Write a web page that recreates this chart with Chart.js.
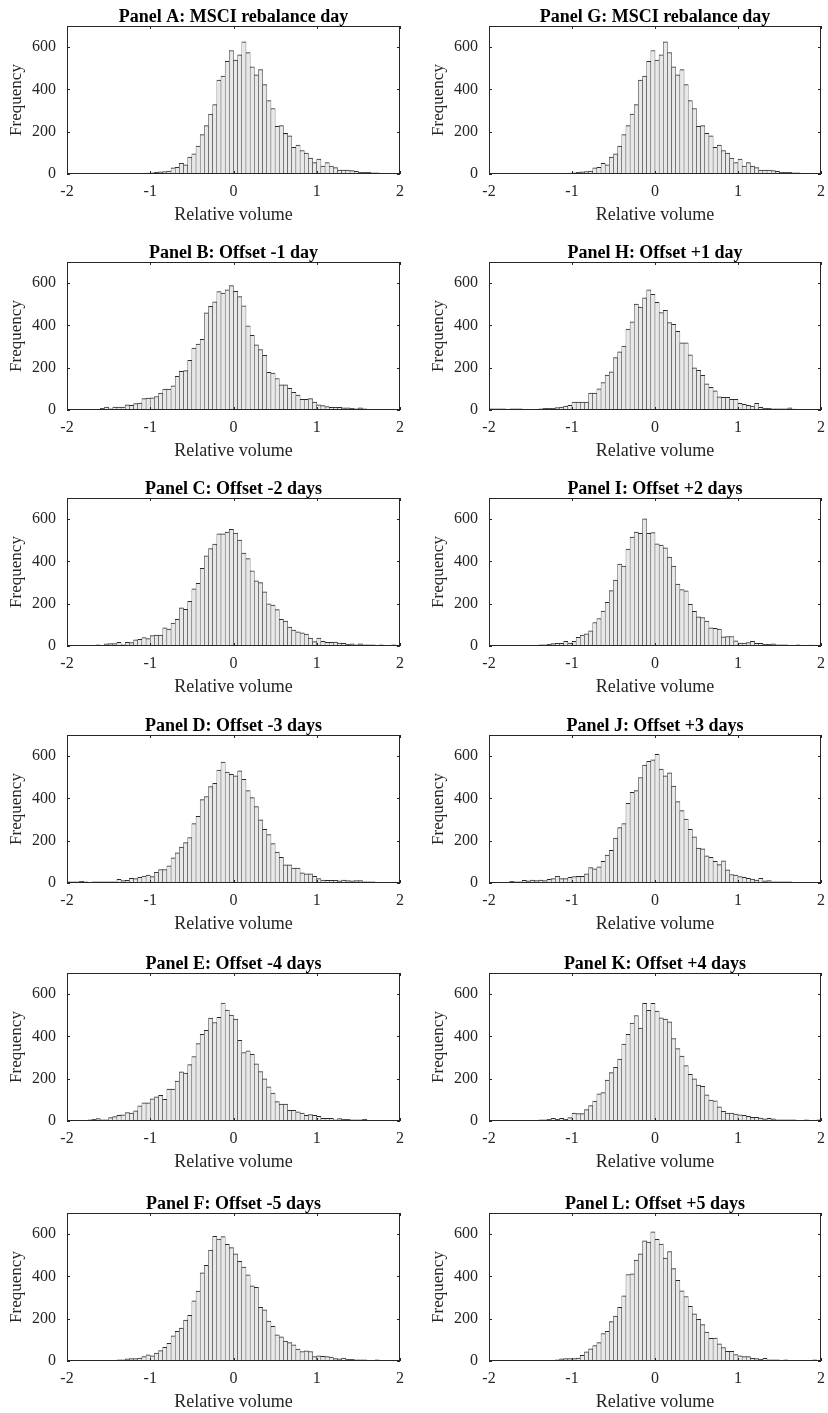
<!DOCTYPE html>
<html>
<head>
<meta charset="utf-8">
<script src="https://cdn.jsdelivr.net/npm/chart.js@4.4.1/dist/chart.umd.min.js"></script>
<style>
  html, body { margin: 0; padding: 0; background: #fff; }
  #wrap { position: relative; width: 828px; height: 1413px; }
  .panel { position: absolute; width: 414px; height: 226px; }
</style>
</head>
<body>
<div id="wrap"></div>
<script>
// ---- data -------------------------------------------------
const BIN_START = -2;
const BIN_WIDTH = 0.05;
const xTicks = [-2, -1, 0, 1, 2];
const yTicks = [0, 200, 400, 600];

const panelA = [0,0,0,0,0,0,0,0,0,0, 0,0,0,0,1,1,2,2,3,4, 5,8,10,12,14,29,32,51,43,80, 95,132,186,229,283,328,444,463,533,584, 539,564,625,574,507,469,494,423,347,310, 226,229,192,181,126,137,111,99,75,54, 70,37,54,38,30,19,19,19,16,13, 8,8,8,6,5,3,3,2,1,1];
const panelB = [1,1,2,1,1,1,1,2,8,14, 6,14,14,14,25,22,30,33,54,56, 57,64,80,99,99,114,159,183,186,235, 293,312,334,460,490,512,560,553,568,588, 561,536,493,398,353,308,286,259,178,175, 149,119,119,103,84,70,51,51,54,37, 25,21,16,13,13,13,10,10,8,6, 10,5,3,2,2,1,2,1,1,1];
const panelC = [2,2,2,2,2,2,2,5,3,10, 11,11,17,6,17,16,29,32,40,35, 49,52,52,86,80,108,126,180,173,211, 270,296,367,426,461,482,531,531,539,552, 534,501,439,413,356,308,300,256,199,194, 172,126,118,89,75,67,62,56,38,21, 37,22,17,17,19,14,13,8,10,6, 10,5,6,5,2,5,2,3,6,2];
const panelD = [5,6,5,8,5,3,6,5,6,6, 6,5,17,11,13,22,21,27,33,38, 30,51,64,64,81,119,143,170,191,215, 281,315,394,409,456,472,534,572,525,514, 507,531,490,437,404,361,299,254,229,186, 146,122,86,86,70,70,48,43,43,32, 21,14,13,13,13,10,14,11,10,11, 11,6,5,5,3,3,3,2,1,1];
const panelE = [2,2,2,2,3,5,8,11,6,6, 16,21,27,29,40,38,48,72,86,86, 105,114,122,103,151,151,189,232,227,267, 305,366,410,429,487,466,490,558,525,501, 482,382,324,332,315,270,234,199,162,132, 92,80,80,51,51,43,38,27,30,27, 22,13,13,13,6,11,8,8,6,6, 5,8,3,3,3,1,1,2,2,2];
const panelF = [0,0,0,0,0,0,1,1,1,1, 2,3,5,6,10,11,11,14,21,29, 25,38,49,65,83,119,140,156,194,216, 285,331,417,453,525,590,577,588,552,536, 507,471,444,407,355,348,254,242,189,164, 124,114,94,87,76,56,45,48,45,21, 25,22,21,19,11,10,14,8,8,6, 5,5,3,3,5,3,2,2,1,1];
const panelG = [0,0,0,0,0,0,0,0,0,0, 0,0,0,0,1,1,2,2,3,4, 5,8,10,12,14,29,32,51,43,80, 95,132,186,229,283,328,444,463,533,584, 539,564,625,574,507,469,494,423,347,310, 226,229,192,181,126,137,111,99,75,54, 70,37,54,38,30,19,19,19,16,13, 8,8,8,6,5,3,3,2,1,1];
const panelH = [5,6,5,6,3,6,5,5,3,2, 2,2,6,8,8,8,11,14,19,22, 38,38,38,38,80,80,100,130,165,181, 248,275,302,383,417,501,487,531,568,547, 509,461,472,413,405,372,318,318,261,200, 188,164,124,107,91,62,60,60,51,51, 32,27,22,19,32,13,8,8,6,5, 5,6,10,4,1,0,1,2,1,2];
const panelI = [1,1,1,1,2,2,2,2,2,2, 2,3,6,6,8,11,13,13,22,14, 22,41,52,57,72,111,130,165,207,262, 312,388,378,458,515,539,533,601,533,536, 483,477,464,420,378,293,267,261,197,164, 138,135,118,86,83,80,43,45,45,25, 14,14,16,22,13,13,8,8,10,5, 5,5,3,3,5,2,2,4,1,1];
const panelJ = [1,1,1,1,2,8,5,6,13,10, 14,11,14,11,17,21,32,21,21,27, 30,32,32,43,73,67,76,103,132,154, 213,262,281,377,429,437,499,558,576,582, 609,539,507,521,458,385,342,302,254,218, 165,162,129,122,103,87,105,62,40,38, 30,27,22,19,14,22,10,11,6,6, 6,5,5,2,2,3,2,1,2,1];
const panelK = [1,1,1,1,2,2,1,1,1,2, 3,2,6,6,8,13,8,13,8,16, 37,35,35,54,73,94,129,134,194,229, 254,293,364,410,463,499,439,556,523,556, 520,488,482,469,390,342,307,262,221,200, 170,164,124,99,95,67,46,37,37,33, 29,27,22,17,17,14,10,13,10,6, 6,6,5,5,2,2,5,2,2,5];
const panelL = [1,1,1,1,1,2,1,1,1,1, 1,2,2,3,3,3,5,10,11,11, 11,14,27,43,57,73,87,130,140,186, 213,254,308,409,412,477,507,568,563,611, 576,553,487,517,437,382,332,305,259,223, 197,172,137,107,108,81,64,46,46,30, 25,21,21,13,11,8,13,6,6,6, 3,6,3,2,2,2,2,2,5,2];

// panels: left column A-F, right column G-L
const panels = [
  { title: 'Panel A: MSCI rebalance day', counts: panelA, col: 0, row: 0 },
  { title: 'Panel B: Offset -1 day',      counts: panelB, col: 0, row: 1 },
  { title: 'Panel C: Offset -2 days',     counts: panelC, col: 0, row: 2 },
  { title: 'Panel D: Offset -3 days',     counts: panelD, col: 0, row: 3 },
  { title: 'Panel E: Offset -4 days',     counts: panelE, col: 0, row: 4 },
  { title: 'Panel F: Offset -5 days',     counts: panelF, col: 0, row: 5 },
  { title: 'Panel G: MSCI rebalance day', counts: panelG, col: 1, row: 0 },
  { title: 'Panel H: Offset +1 day',      counts: panelH, col: 1, row: 1 },
  { title: 'Panel I: Offset +2 days',     counts: panelI, col: 1, row: 2 },
  { title: 'Panel J: Offset +3 days',     counts: panelJ, col: 1, row: 3 },
  { title: 'Panel K: Offset +4 days',     counts: panelK, col: 1, row: 4 },
  { title: 'Panel L: Offset +5 days',     counts: panelL, col: 1, row: 5 },
];

// ---- layout -----------------------------------------------
const ROW_TOPS = [0, 236, 472, 709, 947, 1187];
const COL_PAD = [{ left: 0, right: 14 }, { left: 8, right: 7 }];
const FONT = '"Liberation Serif", "Times New Roman", serif';
const AXIS_COLOR = '#262626';
const TICK_LEN = 3;

// MATLAB-like box with inward ticks on all four sides, title centred on the axes
const boxPlugin = {
  id: 'matlabBox',
  afterDatasetsDraw(chart, args, opts) {
    const { ctx, chartArea: a, scales: { x, y } } = chart;
    ctx.save();
    ctx.strokeStyle = AXIS_COLOR;
    ctx.lineWidth = 1;
    ctx.beginPath();
    xTicks.forEach(v => {
      const px = Math.round(x.getPixelForValue(v)) + 0.5;
      ctx.moveTo(px, a.bottom); ctx.lineTo(px, a.bottom - TICK_LEN);
      ctx.moveTo(px, a.top);    ctx.lineTo(px, a.top + TICK_LEN);
    });
    yTicks.forEach(v => {
      const py = Math.round(y.getPixelForValue(v)) + 0.5;
      ctx.moveTo(a.left, py);  ctx.lineTo(a.left + TICK_LEN, py);
      ctx.moveTo(a.right, py); ctx.lineTo(a.right - TICK_LEN, py);
    });
    ctx.stroke();
    ctx.strokeRect(Math.round(a.left) + 0.5, Math.round(a.top) + 0.5,
                   Math.round(a.width) - 1, Math.round(a.height) - 1);

    ctx.fillStyle = '#000';
    ctx.font = 'bold 18px ' + FONT;
    ctx.textAlign = 'center';
    ctx.textBaseline = 'alphabetic';
    ctx.fillText(opts.text, (a.left + a.right) / 2, a.top - 4);
    ctx.restore();
  }
};

const wrap = document.getElementById('wrap');

panels.forEach(p => {
  const div = document.createElement('div');
  div.className = 'panel';
  div.style.left = (p.col * 414) + 'px';
  div.style.top = ROW_TOPS[p.row] + 'px';
  const canvas = document.createElement('canvas');
  canvas.width = 414;
  canvas.height = 226;
  div.appendChild(canvas);
  wrap.appendChild(div);

  const points = p.counts.map((c, i) => ({ x: BIN_START + BIN_WIDTH * (i + 0.5), y: c }));

  new Chart(canvas.getContext('2d'), {
    type: 'bar',
    data: {
      datasets: [{
        data: points,
        backgroundColor: '#e8e8e8',
        borderColor: '#2b2b2b',
        borderWidth: { top: 1, left: 0.5, right: 0.5, bottom: 0 },
        borderSkipped: false,
        barPercentage: 1,
        categoryPercentage: 1,
      }],
    },
    options: {
      responsive: false,
      animation: false,
      layout: { padding: { left: COL_PAD[p.col].left, right: COL_PAD[p.col].right, top: 26, bottom: 0 } },
      plugins: {
        legend: { display: false },
        tooltip: { enabled: false },
        title: { display: false },
        matlabBox: { text: p.title },
      },
      scales: {
        x: {
          type: 'linear',
          min: -2, max: 2,
          offset: false,
          grid: { display: false },
          border: { display: false },
          afterBuildTicks: s => { s.ticks = xTicks.map(v => ({ value: v })); },
          afterFit: s => { s.height = 52; },
          ticks: {
            color: AXIS_COLOR,
            font: { family: FONT, size: 16 },
            padding: 0,
            maxRotation: 0,
            callback: v => String(v),
          },
          title: {
            display: true,
            text: 'Relative volume',
            color: AXIS_COLOR,
            font: { family: FONT, size: 18, lineHeight: 1.2 },
            padding: { top: 0, bottom: 0 },
          },
        },
        y: {
          min: 0, max: 700,
          grid: { display: false },
          border: { display: false },
          afterBuildTicks: s => { s.ticks = yTicks.map(v => ({ value: v })); },
          afterFit: s => { s.width = 67; },
          ticks: {
            color: AXIS_COLOR,
            font: { family: FONT, size: 16 },
            padding: 3,
            callback: v => String(v),
          },
          title: {
            display: true,
            text: 'Frequency',
            color: AXIS_COLOR,
            font: { family: FONT, size: 17, lineHeight: 1.2 },
            padding: { top: 6, bottom: 0 },
          },
        },
      },
    },
    plugins: [boxPlugin],
  });
});
</script>
</body>
</html>
